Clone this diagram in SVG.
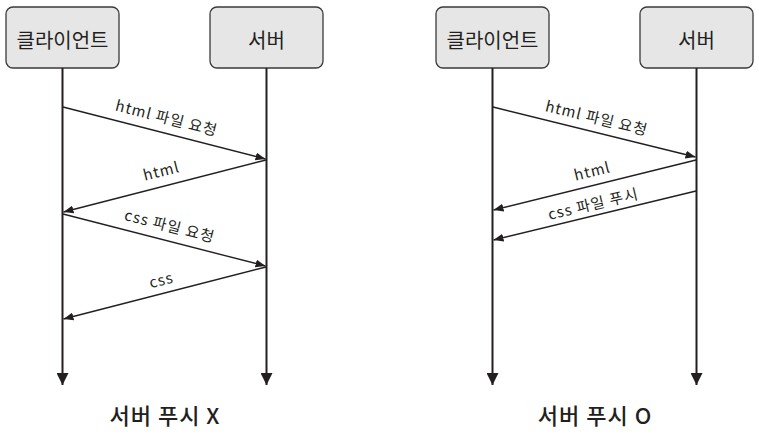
<svg xmlns="http://www.w3.org/2000/svg" width="759" height="444" viewBox="0 0 759 444">
<style>
.box{fill:#e6e6e6;stroke:#3a3a3a;stroke-width:1.3}
.nl{font-family:"Noto Sans CJK KR","Noto Sans",sans-serif;font-size:20px;fill:#231f20;text-anchor:middle;dominant-baseline:central}
.lbl{font-family:"Noto Sans CJK KR","Noto Sans",sans-serif;font-size:15px;letter-spacing:1px;fill:#231f20;text-anchor:middle;dominant-baseline:central}
.ttl{font-family:"Noto Sans CJK KR","Noto Sans",sans-serif;font-size:22px;font-weight:500;letter-spacing:1px;fill:#231f20;text-anchor:middle;dominant-baseline:central}
.life{stroke:#231f20;stroke-width:2;fill:none}
.msg{stroke:#231f20;stroke-width:1.4;fill:none}
</style>
<defs>
<marker id="ah" markerWidth="10" markerHeight="8" refX="10" refY="4" orient="auto" markerUnits="userSpaceOnUse">
<path d="M0,0 L10,4 L0,8 Z" fill="#231f20"/>
</marker>
<marker id="lh" markerWidth="12" markerHeight="12" refX="12" refY="6" orient="auto" markerUnits="userSpaceOnUse">
<path d="M0,0 L12,6 L0,12 Z" fill="#231f20"/>
</marker>
</defs>
<g id="client-left"><rect class="box" x="6" y="7" width="113" height="61" rx="7"/><text class="nl" x="62.5" y="39">클라이언트</text></g>
<g id="server-left"><rect class="box" x="210" y="7" width="113" height="61" rx="7"/><text class="nl" x="266.5" y="39">서버</text></g>
<g id="client-right"><rect class="box" x="436" y="7" width="113" height="61" rx="7"/><text class="nl" x="492.5" y="39">클라이언트</text></g>
<g id="server-right"><rect class="box" x="640" y="7" width="113" height="61" rx="7"/><text class="nl" x="696.5" y="39">서버</text></g>
<g id="connectors">
<line class="life" x1="62.5" y1="68" x2="62.5" y2="385" marker-end="url(#lh)"/>
<line class="life" x1="266.5" y1="68" x2="266.5" y2="385" marker-end="url(#lh)"/>
<line class="life" x1="492.5" y1="68" x2="492.5" y2="385" marker-end="url(#lh)"/>
<line class="life" x1="696.5" y1="68" x2="696.5" y2="385" marker-end="url(#lh)"/>
<line class="msg" x1="63" y1="107" x2="265.5" y2="159" marker-end="url(#ah)"/>
<line class="msg" x1="266" y1="160" x2="63.5" y2="212" marker-end="url(#ah)"/>
<line class="msg" x1="63" y1="214" x2="265.5" y2="266" marker-end="url(#ah)"/>
<line class="msg" x1="266" y1="267" x2="63.5" y2="319" marker-end="url(#ah)"/>
<line class="msg" x1="493" y1="107" x2="695.5" y2="157" marker-end="url(#ah)"/>
<line class="msg" x1="696" y1="160" x2="493.5" y2="210" marker-end="url(#ah)"/>
<line class="msg" x1="696" y1="191" x2="493.5" y2="240" marker-end="url(#ah)"/>
</g>
<g id="labels">
<text class="lbl" transform="translate(167,117) rotate(14.3)">html 파일 요청</text>
<text class="lbl" transform="translate(161,170) rotate(-14.3)">html</text>
<text class="lbl" transform="translate(170,225) rotate(14.3)">css 파일 요청</text>
<text class="lbl" transform="translate(161,279) rotate(-14.3)">css</text>
<text class="lbl" transform="translate(597,117) rotate(13.7)">html 파일 요청</text>
<text class="lbl" transform="translate(592,170) rotate(-13.7)">html</text>
<text class="lbl" transform="translate(593,203) rotate(-13.4)">css 파일 푸시</text>
</g>
<text class="ttl" x="165" y="414">서버 푸시 X</text>
<text class="ttl" x="595" y="414">서버 푸시 O</text>
</svg>
